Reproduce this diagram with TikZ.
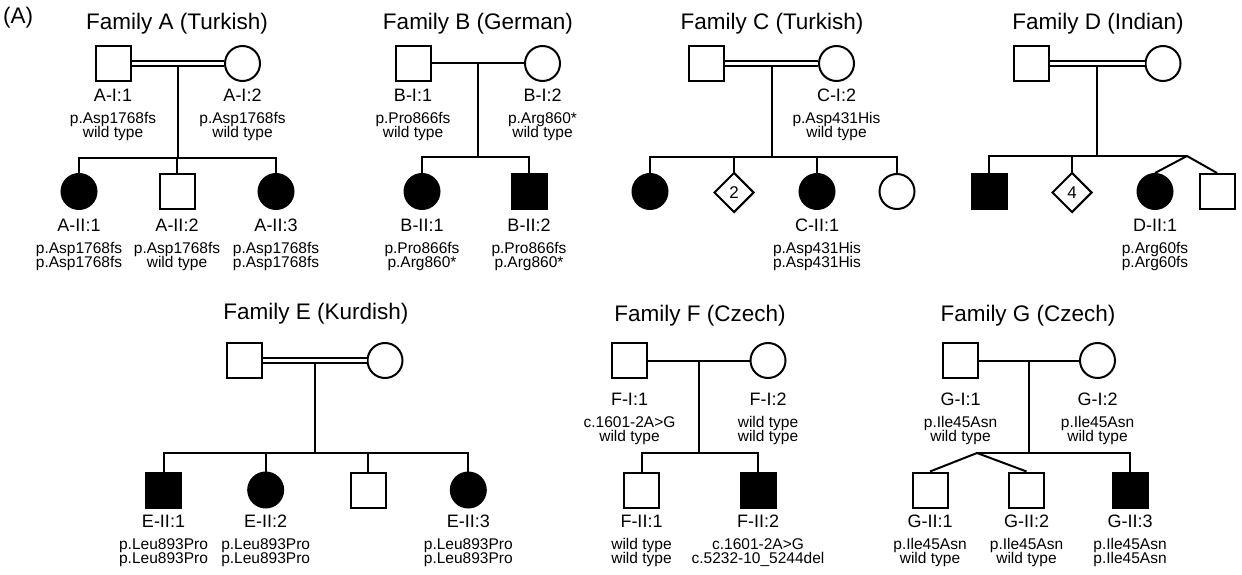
\documentclass[tikz,border=0pt]{standalone}
\usepackage{fontspec}
\setmainfont{Liberation Sans}
\usetikzlibrary{shapes.geometric,calc}
\tikzset{
  male/.style={draw, line width=2pt, rectangle, minimum size=35pt, inner sep=0pt, fill=white},
  female/.style={draw, line width=2pt, circle, minimum size=35pt, inner sep=0pt, fill=white},
  aff/.style={fill=black},
  unk/.style={draw, line width=2pt, diamond, minimum size=40pt, inner sep=0pt, fill=white, font=\fontsize{17}{17}\selectfont},
  ttl/.style={anchor=base, inner sep=0pt, font=\fontsize{22.5}{27}\selectfont},
  idt/.style={anchor=base, inner sep=0pt, font=\fontsize{18}{20}\selectfont},
  mut/.style={anchor=base, inner sep=0pt, font=\fontsize{15.5}{18}\selectfont},
  conn/.style={line width=2pt},
  cons/.style={line width=2pt, double, double distance=3pt}
}
\newcommand{\pinfo}[6]{%
  \node[idt] (#1i) at (#2,#3) {#4};
  \node[mut] (#1a) at (#2,#3+22) {#5};
  \node[mut] (#1b) at (#2,#3+36) {#6};}
\begin{document}
\begin{tikzpicture}[x=1pt,y=-1pt]
\path[fill=white, use as bounding box] (0,0) rectangle (1242,575);
\node[ttl, anchor=base west] (panel) at (3,24) {(A)};

% ---------------- Family A
\node[ttl] (At) at (177,30) {Family A (Turkish)};
\node[male] (A1) at (113,63.5) {};
\node[female] (A2) at (242.5,63.5) {};
\node[female, aff] (Ac1) at (79,191.5) {};
\node[male] (Ac2) at (177,191.5) {};
\node[female, aff] (Ac3) at (276,191.5) {};
\coordinate (Am) at ($(A1.east)!0.5!(A2.west)$);
\coordinate (As) at (177,158);
\draw[conn] (Am) -- (Am |- As);
\draw[cons] (A1.east) -- (A2.west);
\draw[conn] (Ac1.north) |- (As) -| (Ac3.north);
\draw[conn] (Ac2.north) -- (Ac2.north |- As);
\pinfo{A1}{113}{102}{A-I:1}{p.Asp1768fs}{wild type}
\pinfo{A2}{242.5}{102}{A-I:2}{p.Asp1768fs}{wild type}
\pinfo{Ac1}{79}{231}{A-II:1}{p.Asp1768fs}{p.Asp1768fs}
\pinfo{Ac2}{177}{231}{A-II:2}{p.Asp1768fs}{wild type}
\pinfo{Ac3}{276}{231}{A-II:3}{p.Asp1768fs}{p.Asp1768fs}

% ---------------- Family B
\node[ttl] (Bt) at (478,30) {Family B (German)};
\node[male] (B1) at (413,63.5) {};
\node[female] (B2) at (542.5,63.5) {};
\node[female, aff] (Bc1) at (422,191.5) {};
\node[male, aff] (Bc2) at (529,191.5) {};
\coordinate (Bm) at ($(B1.east)!0.5!(B2.west)$);
\coordinate (Bs) at (478,157);
\draw[conn] (B1.east) -- (B2.west);
\draw[conn] (Bm) -- (Bm |- Bs);
\draw[conn] (Bc1.north) |- (Bs) -| (Bc2.north);
\pinfo{B1}{413}{102}{B-I:1}{p.Pro866fs}{wild type}
\pinfo{B2}{542.5}{102}{B-I:2}{p.Arg860*}{wild type}
\pinfo{Bc1}{422}{231}{B-II:1}{p.Pro866fs}{p.Arg860*}
\pinfo{Bc2}{529}{231}{B-II:2}{p.Pro866fs}{p.Arg860*}

% ---------------- Family C
\node[ttl] (Ct) at (772,30) {Family C (Turkish)};
\node[male] (C1) at (706.5,63.5) {};
\node[female] (C2) at (836.5,63.5) {};
\node[female, aff] (Cc1) at (650,191.5) {};
\node[unk] (Cc2) at (734,192.5) {2};
\node[female, aff] (Cc3) at (817,191.5) {};
\node[female] (Cc4) at (897,191.5) {};
\coordinate (Cm) at ($(C1.east)!0.5!(C2.west)$);
\coordinate (Cs) at (772,157);
\draw[conn] (Cm) -- (Cm |- Cs);
\draw[cons] (C1.east) -- (C2.west);
\draw[conn] (Cc1.north) |- (Cs) -| (Cc4.north);
\draw[conn] (Cc2.north) -- (Cc2.north |- Cs);
\draw[conn] (Cc3.north) -- (Cc3.north |- Cs);
\pinfo{C2}{836.5}{102}{C-I:2}{p.Asp431His}{wild type}
\pinfo{Cc3}{817}{231}{C-II:1}{p.Asp431His}{p.Asp431His}

% ---------------- Family D
\node[ttl] (Dt0) at (1098,30) {Family D (Indian)};
\node[male] (D1) at (1031.5,63.5) {};
\node[female] (D2) at (1163,63.5) {};
\node[male, aff] (Dc1) at (989,191.5) {};
\node[unk] (Dc2) at (1072,192.5) {4};
\node[female, aff] (Dc3) at (1155,191.5) {};
\node[male] (Dc4) at (1217,191.5) {};
\coordinate (Dm) at ($(D1.east)!0.5!(D2.west)$);
\coordinate (Dt) at (1187,156);
\draw[conn] (Dm) -- (Dm |- Dt);
\draw[cons] (D1.east) -- (D2.west);
\draw[conn] (Dc1.north) |- (Dt);
\draw[conn] (Dc3.north) -- (Dt) -- (Dc4.north);
\draw[conn] (Dc2.north) -- (Dc2.north |- Dt);
\pinfo{Dc3}{1155}{231}{D-II:1}{p.Arg60fs}{p.Arg60fs}

% ---------------- Family E
\node[ttl] (Et) at (316,319) {Family E (Kurdish)};
\node[male] (E1) at (244.5,360.5) {};
\node[female] (E2) at (385,360.5) {};
\node[male, aff] (Ec1) at (163.5,490) {};
\node[female, aff] (Ec2) at (265.7,490) {};
\node[male] (Ec3) at (368,490) {};
\node[female, aff] (Ec4) at (468.3,490) {};
\coordinate (Em) at ($(E1.east)!0.5!(E2.west)$);
\coordinate (Es) at (316,453);
\draw[conn] (Em) -- (Em |- Es);
\draw[cons] (E1.east) -- (E2.west);
\draw[conn] (Ec1.north) |- (Es) -| (Ec4.north);
\draw[conn] (Ec2.north) -- (Ec2.north |- Es);
\draw[conn] (Ec3.north) -- (Ec3.north |- Es);
\pinfo{Ec1}{163.5}{527}{E-II:1}{p.Leu893Pro}{p.Leu893Pro}
\pinfo{Ec2}{265.7}{527}{E-II:2}{p.Leu893Pro}{p.Leu893Pro}
\pinfo{Ec4}{468.3}{527}{E-II:3}{p.Leu893Pro}{p.Leu893Pro}

% ---------------- Family F
\node[ttl] (Ft) at (700,321) {Family F (Czech)};
\node[male] (F1) at (629.5,360.5) {};
\node[female] (F2) at (768,360.5) {};
\node[male] (Fc1) at (641.5,490) {};
\node[male, aff] (Fc2) at (758,490) {};
\coordinate (Fm) at ($(F1.east)!0.5!(F2.west)$);
\coordinate (Fs) at (700,453);
\draw[conn] (F1.east) -- (F2.west);
\draw[conn] (Fm) -- (Fm |- Fs);
\draw[conn] (Fc1.north) |- (Fs) -| (Fc2.north);
\pinfo{F1}{629.5}{405}{F-I:1}{c.1601-2A>G}{wild type}
\pinfo{F2}{768}{405}{F-I:2}{wild type}{wild type}
\pinfo{Fc1}{641.5}{527}{F-II:1}{wild type}{wild type}
\pinfo{Fc2}{758}{527}{F-II:2}{c.1601-2A>G}{c.5232-10\_5244del}

% ---------------- Family G
\node[ttl] (Gt0) at (1028,321) {Family G (Czech)};
\node[male] (G1) at (960.5,360.5) {};
\node[female] (G2) at (1097.5,360.5) {};
\node[male] (Gc1) at (930,490) {};
\node[male] (Gc2) at (1026.5,490) {};
\node[male, aff] (Gc3) at (1130,490) {};
\coordinate (Gm) at ($(G1.east)!0.5!(G2.west)$);
\coordinate (Gt) at (977,453);
\draw[conn] (G1.east) -- (G2.west);
\draw[conn] (Gm) -- (Gm |- Gt);
\draw[conn] (Gc1.north) -- (Gt) -- (Gc2.north);
\draw[conn] (Gt) -| (Gc3.north);
\pinfo{G1}{960.5}{405}{G-I:1}{p.Ile45Asn}{wild type}
\pinfo{G2}{1097.5}{405}{G-I:2}{p.Ile45Asn}{wild type}
\pinfo{Gc1}{930}{527}{G-II:1}{p.Ile45Asn}{wild type}
\pinfo{Gc2}{1026.5}{527}{G-II:2}{p.Ile45Asn}{wild type}
\pinfo{Gc3}{1130}{527}{G-II:3}{p.Ile45Asn}{p.Ile45Asn}
\end{tikzpicture}
\end{document}
